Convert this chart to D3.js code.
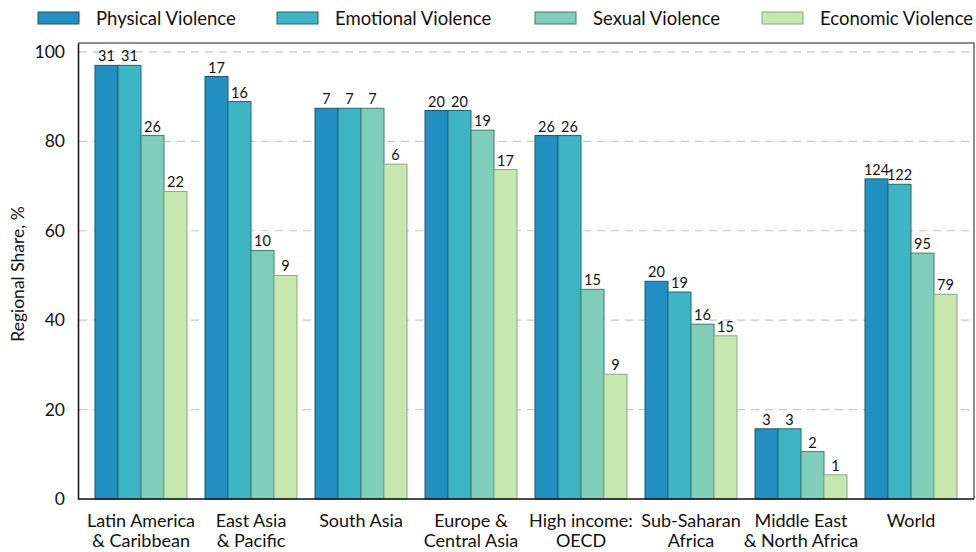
<!DOCTYPE html>
<html>
<head>
<meta charset="utf-8">
<script src="https://cdn.jsdelivr.net/npm/d3@7"></script>
<style>
  html, body { margin: 0; padding: 0; background: #fff; }
  svg { display: block; font-family: Lato, "Open Sans", sans-serif; }
</style>
</head>
<body>
<svg id="chart" width="976" height="552"></svg>
<script>
const categories = [
  ["Latin America", "& Caribbean"],
  ["East Asia", "& Pacific"],
  ["South Asia"],
  ["Europe &", "Central Asia"],
  ["High income:", "OECD"],
  ["Sub-Saharan", "Africa"],
  ["Middle East", "& North Africa"],
  ["World"]
];
const seriesNames = ["Physical Violence", "Emotional Violence", "Sexual Violence", "Economic Violence"];
const physical  = [97.0, 94.5, 87.4, 86.9, 81.3, 48.7, 15.7, 71.6];
const emotional = [97.0, 88.9, 87.4, 86.9, 81.3, 46.3, 15.7, 70.4];
const sexual    = [81.3, 55.6, 87.4, 82.5, 46.9, 39.1, 10.6, 55.0];
const economic  = [68.8, 50.0, 74.9, 73.7, 27.9, 36.5, 5.4, 45.8];
const physicalN  = ["31", "17", "7", "20", "26", "20", "3", "124"];
const emotionalN = ["31", "16", "7", "20", "26", "19", "3", "122"];
const sexualN    = ["26", "10", "7", "19", "15", "16", "2", "95"];
const economicN  = ["22", "9", "6", "17", "9", "15", "1", "79"];
const yTicks = [0, 20, 40, 60, 80, 100];
const yTitle = "Regional Share, %";

const colors = ["#2190c0", "#3eb5c5", "#80cdb9", "#c6e8ae"];
const strokes = ["#1d5870", "#1f6878", "#3f7d70", "#8aa68a"];
const values = [physical, emotional, sexual, economic];
const counts = [physicalN, emotionalN, sexualN, economicN];

const svg = d3.select("#chart");
const pLeft = 78, pRight = 974, pTop = 43, pBottom = 499;

const catKeys = categories.map(c => c.join(" "));
const x = d3.scaleBand().domain(catKeys).range([86, 966]).paddingInner(0).paddingOuter(0);
const xs = d3.scaleBand().domain(d3.range(4)).range([9, x.bandwidth() - 9]);
const y = d3.scaleLinear().domain([0, 102]).range([pBottom, pTop]);

// gridlines
svg.append("g").selectAll("line").data(yTicks.filter(t => t > 0)).join("line")
  .attr("x1", pLeft + 1).attr("x2", pRight - 1)
  .attr("y1", d => y(d)).attr("y2", d => y(d))
  .attr("stroke", "#c8c8c8").attr("stroke-width", 1.2).attr("stroke-dasharray", "8,6");

// frame top/right
svg.append("path")
  .attr("d", `M${pLeft},${pTop}H${pRight}V${pBottom}`)
  .attr("fill", "none").attr("stroke", "#6a6a6a").attr("stroke-width", 1.5);

// bars
const groups = svg.append("g").selectAll("g").data(catKeys).join("g")
  .attr("transform", d => `translate(${x(d)},0)`);
groups.each(function(cat, ci) {
  const g = d3.select(this);
  for (let s = 0; s < 4; s++) {
    const v = values[s][ci];
    g.append("rect")
      .attr("x", xs(s)).attr("width", xs.bandwidth())
      .attr("y", y(v)).attr("height", y(0) - y(v))
      .attr("fill", colors[s]).attr("stroke", strokes[s]).attr("stroke-width", 1);
    g.append("text")
      .attr("x", xs(s) + xs.bandwidth() / 2).attr("y", y(v) - 4)
      .attr("text-anchor", "middle").attr("font-size", 14.5).attr("fill", "#111")
      .text(counts[s][ci]);
  }
});

// y axis
const yAxis = svg.append("g").attr("transform", `translate(${pLeft},0)`)
  .call(d3.axisLeft(y).tickValues(yTicks).tickSize(0).tickPadding(13));
yAxis.select(".domain").attr("stroke", "#111").attr("stroke-width", 1.5);
yAxis.selectAll("text").attr("font-size", 17.5).attr("fill", "#111").attr("font-family", "Lato, sans-serif");

// x axis line
svg.append("line").attr("x1", pLeft).attr("x2", pRight).attr("y1", pBottom).attr("y2", pBottom)
  .attr("stroke", "#111").attr("stroke-width", 1.5);

// x labels
categories.forEach((lines, i) => {
  const cx = x(catKeys[i]) + x.bandwidth() / 2;
  const t = svg.append("text").attr("text-anchor", "middle").attr("font-size", 18).attr("fill", "#111");
  lines.forEach((ln, j) => {
    t.append("tspan").attr("x", cx).attr("y", 527 + j * 20).text(ln);
  });
});

// y title
svg.append("text")
  .attr("transform", `translate(24,${(pTop + pBottom) / 2 + 3}) rotate(-90)`)
  .attr("text-anchor", "middle").attr("font-size", 17.5).attr("fill", "#111")
  .text(yTitle);

// legend
const legX = [38, 277, 535, 762];
const leg = svg.append("g").selectAll("g").data(seriesNames).join("g")
  .attr("transform", (d, i) => `translate(${legX[i]},0)`);
leg.append("rect").attr("x", 0).attr("y", 12).attr("width", 41).attr("height", 12)
  .attr("fill", (d, i) => colors[i]).attr("stroke", (d, i) => strokes[i]).attr("stroke-width", 1);
leg.append("text").attr("x", 58).attr("y", 25).attr("font-size", 18.5).attr("fill", "#111")
  .text(d => d);
</script>
</body>
</html>
